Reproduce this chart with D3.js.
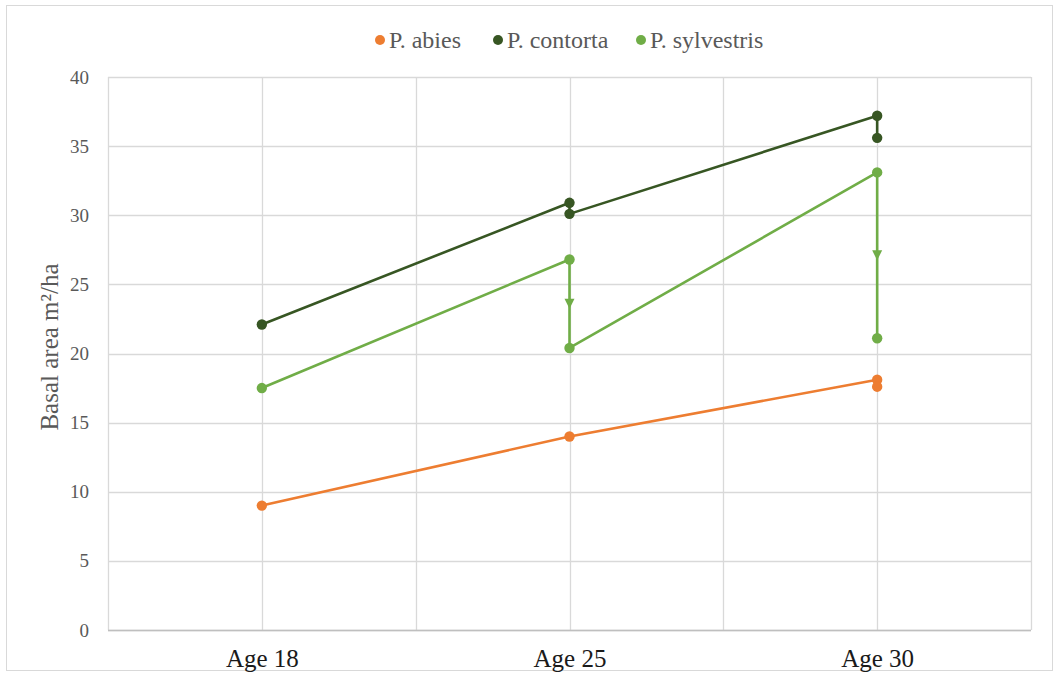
<!DOCTYPE html>
<html>
<head>
<meta charset="utf-8">
<script src="https://cdn.jsdelivr.net/npm/d3@7"></script>
<style>
  html, body { margin: 0; padding: 0; background: #fff; }
  svg { display: block; }
</style>
</head>
<body>
<svg id="chart" width="1058" height="675"></svg>
<script>
// Stand ages on the category axis
const ages = ["Age 18", "Age 25", "Age 30"];
// Axis position of each age (grid runs 0..6 with labels at 1, 3, 5)
const agePos = [1, 3, 5];
const yTicks = [0, 5, 10, 15, 20, 25, 30, 35, 40];

const species = ["P. abies", "P. contorta", "P. sylvestris"];
const colors = ["#ED7D31", "#375623", "#70AD47"];

// Basal area (m²/ha) per age; two values at one age = before / after thinning
const abies      = [[9.0], [14.0], [18.1, 17.6]];
const contorta   = [[22.1], [30.9, 30.1], [37.2, 35.6]];
const sylvestris = [[17.5], [26.8, 20.4], [33.1, 21.1]];
// Whether a thinning drop gets a direction arrow
const arrowDrops = [false, false, true];

const seriesValues = [abies, contorta, sylvestris];

const FONT = "'Liberation Serif', 'Times New Roman', serif";
const svg = d3.select("#chart");
const W = 1058, H = 675;
const m = { left: 108, right: 27, top: 77, bottom: 45 };

// outer frame
svg.append("rect")
  .attr("x", 6.5).attr("y", 5.5)
  .attr("width", W - 12).attr("height", H - 10)
  .attr("fill", "#fff").attr("stroke", "#d9d9d9").attr("stroke-width", 1);

const x = d3.scaleLinear().domain([0, 6]).range([m.left, W - m.right]);
const y = d3.scaleLinear().domain([0, 40]).range([H - m.bottom, m.top]);

// gridlines
const g = svg.append("g");
g.selectAll("line.h").data(yTicks).join("line")
  .attr("class", "h")
  .attr("x1", x(0)).attr("x2", x(6))
  .attr("y1", d => Math.round(y(d)) + 0.5).attr("y2", d => Math.round(y(d)) + 0.5)
  .attr("stroke", "#d9d9d9").attr("stroke-width", 1.3);
g.selectAll("line.v").data(d3.range(0, 7)).join("line")
  .attr("class", "v")
  .attr("y1", y(40)).attr("y2", y(0))
  .attr("x1", d => Math.round(x(d)) + 0.5).attr("x2", d => Math.round(x(d)) + 0.5)
  .attr("stroke", "#d9d9d9").attr("stroke-width", 1.3);

// x axis baseline
svg.append("line")
  .attr("x1", x(0)).attr("x2", x(6))
  .attr("y1", Math.round(y(0)) + 0.5).attr("y2", Math.round(y(0)) + 0.5)
  .attr("stroke", "#bfbfbf").attr("stroke-width", 1.5);

// y axis tick labels
const yAxis = d3.axisLeft(y).tickValues(yTicks).tickSize(0).tickPadding(19);
svg.append("g")
  .attr("transform", `translate(${x(0)},0)`)
  .call(yAxis)
  .call(s => s.select(".domain").remove())
  .selectAll("text")
  .attr("font-family", FONT)
  .attr("font-size", 19)
  .attr("fill", "#595959");

// x axis labels
const xAxis = d3.axisBottom(x).tickValues(agePos).tickFormat((d, i) => ages[i]).tickSize(0).tickPadding(19);
svg.append("g")
  .attr("transform", `translate(0,${y(0)})`)
  .call(xAxis)
  .call(s => s.select(".domain").remove())
  .selectAll("text")
  .attr("font-family", FONT)
  .attr("font-size", 25)
  .attr("fill", "#1a1a1a");

// y axis title
svg.append("text")
  .attr("transform", `translate(58,347) rotate(-90)`)
  .attr("text-anchor", "middle")
  .attr("font-family", FONT)
  .attr("font-size", 25)
  .attr("fill", "#595959")
  .text("Basal area m²/ha");

// series
seriesValues.forEach((vals, si) => {
  const pts = [];
  vals.forEach((arr, ai) => arr.forEach(v => pts.push([agePos[ai], v])));
  const col = colors[si];
  const grp = svg.append("g");
  grp.append("path")
    .datum(pts)
    .attr("d", d3.line().x(d => x(d[0])).y(d => y(d[1])))
    .attr("fill", "none").attr("stroke", col).attr("stroke-width", 2.6)
    .attr("stroke-linejoin", "round");

  // direction arrows halfway down each thinning drop
  if (arrowDrops[si]) {
    vals.forEach((arr, ai) => {
      if (arr.length < 2) return;
      const cx = x(agePos[ai]);
      const cy = (y(arr[0]) + y(arr[1])) / 2;
      grp.append("path")
        .attr("d", `M${cx - 5},${cy - 5} L${cx + 5},${cy - 5} L${cx},${cy + 5} Z`)
        .attr("fill", col);
    });
  }

  grp.selectAll("circle").data(pts).join("circle")
    .attr("cx", d => x(d[0])).attr("cy", d => y(d[1]))
    .attr("r", 5.2).attr("fill", col);
});

// legend
const legendX = [380, 498, 641];
const lg = svg.append("g");
species.forEach((name, i) => {
  lg.append("circle").attr("cx", legendX[i]).attr("cy", 40).attr("r", 5).attr("fill", colors[i]);
  lg.append("text")
    .attr("x", legendX[i] + 9).attr("y", 48)
    .attr("font-family", FONT)
    .attr("font-size", 24)
    .attr("fill", "#595959")
    .text(name);
});
</script>
</body>
</html>
